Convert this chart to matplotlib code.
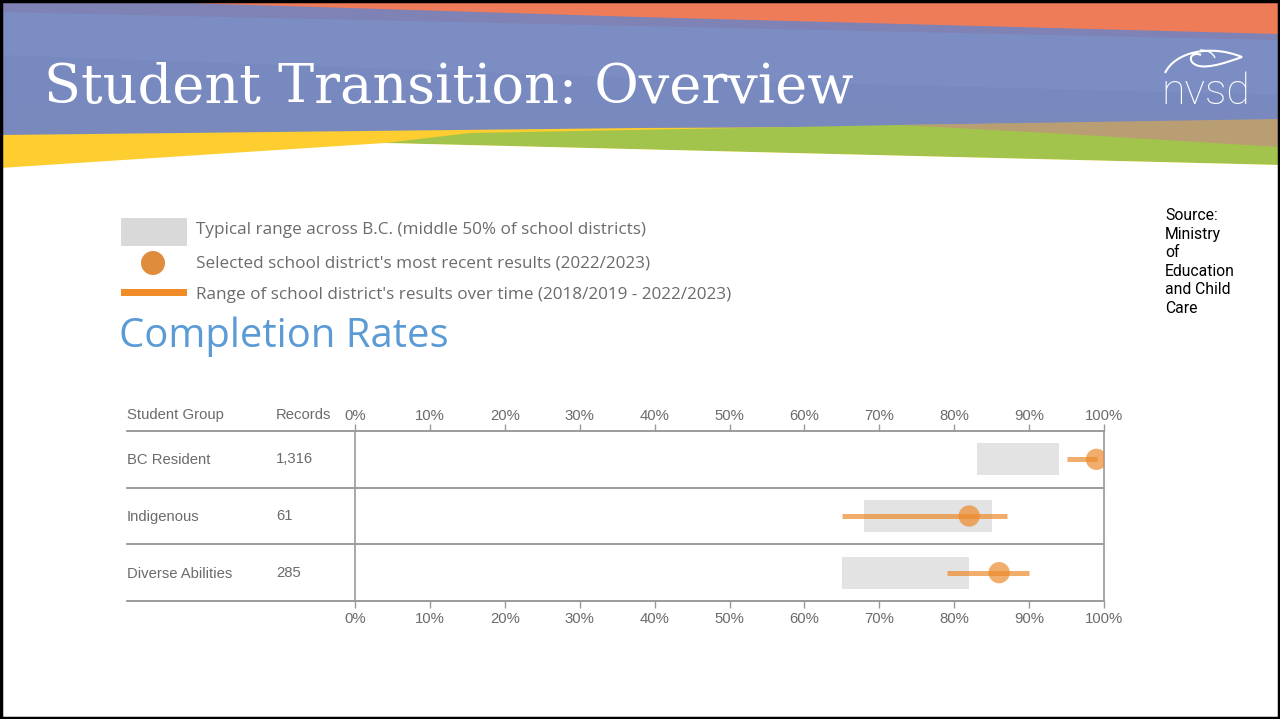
import matplotlib
matplotlib.use("Agg")
import matplotlib.pyplot as plt
from matplotlib.patches import Polygon, Rectangle, Circle, PathPatch
from matplotlib.path import Path
from matplotlib.transforms import ScaledTranslation

# ==============================
# DATA
# ==============================
groups = ["BC Resident", "Indigenous", "Diverse Abilities"]
records = ["1,316", "61", "285"]
typical_low = [83, 68, 65]
typical_high = [94, 85, 82]
range_low = [95, 65, 79]
range_high = [99, 87, 90]
recent = [99, 82, 86]
ticks = [0, 10, 20, 30, 40, 50, 60, 70, 80, 90, 100]

legend_labels = [
    "Typical range across B.C. (middle 50% of school districts)",
    "Selected school district's most recent results (2022/2023)",
    "Range of school district's results over time (2018/2019 - 2022/2023)",
]

GREY_BOX = "#e3e3e3"
ORANGE = "#ec8a2c"
TEXT_GREY = "#6b6b6b"

W, H = 1280, 719
fig = plt.figure(figsize=(12.8, 7.19), dpi=100)

# ==============================
# SLIDE BACKGROUND / BANNER
# ==============================
bg = fig.add_axes([0, 0, 1, 1])
bg.set_xlim(0, W)
bg.set_ylim(H, 0)
bg.axis("off")

bands = [
    ([(0, 0), (1280, 0), (1280, 150), (0, 150)], "#7f82b4"),
    ([(0, 12), (1280, 40), (1280, 150), (0, 150)], "#7b8dc3"),
    ([(0, 55), (700, 80), (1280, 95), (1280, 150), (0, 150)], "#7889bf"),
    ([(0, 100), (1280, 110), (1280, 150), (0, 150)], "#7a89bd"),
    ([(90, 0), (1280, 0), (1280, 34), (640, 17)], "#ef7c59"),
    ([(0, 135), (640, 128), (1280, 125), (1280, 175), (0, 175)], "#fecd2f"),
    ([(470, 133), (900, 125), (1280, 120), (1280, 165), (385, 143)], "#a2c44c"),
    ([(900, 125), (1280, 119), (1280, 147), (1050, 133)], "#b99e74"),
    ([(0, 168), (385, 143), (1280, 165), (1280, 719), (0, 719)], "white"),
]
for pts, col in bands:
    bg.add_patch(Polygon(pts, closed=True, facecolor=col, edgecolor="none"))

bg.add_patch(Rectangle((1, 1), W - 2, H - 2, facecolor="none",
                       edgecolor="black", linewidth=2.5))

bg.text(44, 88, "Student Transition: Overview", color="white",
        family="DejaVu Serif", fontsize=39, va="center", ha="left")

# nvsd logo
bg.text(1206, 92, "nvsd", color="white", family="Roboto", fontweight="light",
        fontsize=31, ha="center", va="center")
leaf = Path([(1165, 73), (1175, 52), (1210, 44), (1242, 57),
             (1225, 63), (1200, 72), (1192, 62),
             (1188, 56), (1195, 52), (1201, 55)],
            [Path.MOVETO, Path.CURVE4, Path.CURVE4, Path.CURVE4,
             Path.CURVE4, Path.CURVE4, Path.CURVE4,
             Path.CURVE4, Path.CURVE4, Path.CURVE4])
bg.add_patch(PathPatch(leaf, facecolor="none", edgecolor="white", linewidth=1.5))
vein = Path([(1200, 50), (1208, 50), (1213, 53), (1215, 58)],
            [Path.MOVETO, Path.CURVE4, Path.CURVE4, Path.CURVE4])
bg.add_patch(PathPatch(vein, facecolor="none", edgecolor="white", linewidth=1.0))

# legend
bg.add_patch(Rectangle((121, 218), 66, 28, facecolor="#d9d9d9", edgecolor="none"))
bg.add_patch(Circle((153, 263), 12, facecolor="#df8d3c", edgecolor="none"))
bg.add_patch(Rectangle((121, 289), 66, 7, facecolor="#f28c28", edgecolor="none"))
for y, lab in zip([230, 263, 295], legend_labels):
    bg.text(196, y, lab, color=TEXT_GREY, family="Open Sans", fontsize=12.3,
            va="center", ha="left")

bg.text(119, 337, "Completion Rates", color="#5b9bd5", family="Open Sans",
        fontsize=28.8, va="center", ha="left")

bg.text(1165, 208, "Source:\nMinistry\nof\nEducation\nand Child\nCare",
        color="black", family="Roboto", fontsize=11.3, va="top", ha="left",
        linespacing=1.3)

# ==============================
# CHART
# ==============================
x0, x1, ytop, ybot = 355, 1104, 431, 601
ax = fig.add_axes([x0 / W, 1 - ybot / H, (x1 - x0) / W, (ybot - ytop) / H])
ax.set_xlim(0, 100)
ax.set_ylim(3, 0)
ax.patch.set_alpha(0)

for i in range(len(groups)):
    yc = i + 0.5
    ax.barh(yc, typical_high[i] - typical_low[i], left=typical_low[i],
            height=0.57, color=GREY_BOX, zorder=1)
    ax.plot([range_low[i], range_high[i]], [yc, yc], color=ORANGE, alpha=0.7,
            linewidth=3.6, solid_capstyle="butt", zorder=2)
    ax.scatter([recent[i]], [yc], s=235, color=ORANGE, alpha=0.7,
               edgecolors="none", zorder=3)

px = (x1 - x0) / 100.0
left_ext = -(x0 - 127) / (x1 - x0)
for k in range(len(groups) + 1):
    ax.axhline(k, xmin=left_ext, xmax=1, color="#8a8a8a", linewidth=1.2,
               clip_on=False, zorder=0)

for s in ["top", "bottom"]:
    ax.spines[s].set_visible(False)
for s in ["left", "right"]:
    ax.spines[s].set_color("#9a9a9a")
    ax.spines[s].set_linewidth(1.2)

ax.set_yticks([])
ax.set_xticks(ticks)
ax.set_xticklabels([f"{t}%" for t in ticks])
ax.tick_params(axis="x", top=True, labeltop=True, bottom=True, labelbottom=True,
               length=5, width=1, color="#9a9a9a", labelcolor=TEXT_GREY,
               labelsize=10.7, pad=3)
shift = ScaledTranslation(0, -3 / 100, fig.dpi_scale_trans)
for t in ax.xaxis.get_major_ticks():
    t.label1.set_family("Liberation Sans")
    t.label2.set_family("Liberation Sans")
    t.label2.set_transform(t.label2.get_transform() + shift)

col_group = (127 - x0) / px
col_rec = (276 - x0) / px
ax.text(col_group, -0.29, "Student Group", color=TEXT_GREY, family="Liberation Sans",
        fontsize=10.7, va="center", ha="left", clip_on=False)
ax.text(col_rec, -0.29, "Records", color=TEXT_GREY, family="Liberation Sans",
        fontsize=10.7, va="center", ha="left", clip_on=False)
for i, (g, r) in enumerate(zip(groups, records)):
    ax.text(col_group, i + 0.52, g, color=TEXT_GREY, family="Liberation Sans",
            fontsize=10.7, va="center", ha="left", clip_on=False)
    ax.text(col_rec, i + 0.5, r, color=TEXT_GREY, family="Liberation Sans",
            fontsize=10.7, va="center", ha="left", clip_on=False)

fig.savefig("out.png", dpi=100)
